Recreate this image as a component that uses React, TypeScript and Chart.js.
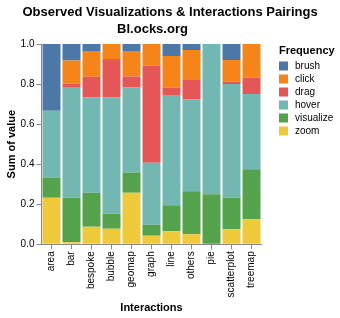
import React, { useEffect, useRef } from "react";
import { Chart, registerables } from "chart.js";

Chart.register(...registerables);

const categories = ["area", "bar", "bespoke", "bubble", "geomap", "graph", "line", "others", "pie", "scatterplot", "treemap"];

// stack order bottom -> top
const zoomValues = [0.233, 0.01, 0.087, 0.078, 0.257, 0.043, 0.065, 0.05, 0, 0.075, 0.125];
const visualizeValues = [0.1, 0.222, 0.17, 0.075, 0.101, 0.054, 0.13, 0.215, 0.25, 0.158, 0.25];
const hoverValues = [0.334, 0.55, 0.476, 0.58, 0.425, 0.31, 0.55, 0.458, 0.75, 0.567, 0.375];
const dragValues = [0, 0.02, 0.104, 0.192, 0.055, 0.486, 0.038, 0.097, 0, 0.012, 0.083];
const clickValues = [0, 0.115, 0.128, 0.075, 0.127, 0.107, 0.157, 0.15, 0, 0.108, 0.167];
const brushValues = [0.333, 0.083, 0.035, 0, 0.035, 0, 0.06, 0.03, 0, 0.08, 0];

const legendLabels = ["brush", "click", "drag", "hover", "visualize", "zoom"];
const legendColors = ["#4c78a8", "#f58518", "#e45756", "#72b7b2", "#54a24b", "#eeca3b"];
const yTicks = [0, 0.2, 0.4, 0.6, 0.8, 1.0];

const FONT = "'Liberation Sans', Arial, Helvetica, sans-serif";

const textPlugin = {
  id: "textPlugin",
  afterDraw(chart: any) {
    const ctx = chart.ctx as CanvasRenderingContext2D;
    const area = chart.chartArea;
    ctx.save();
    ctx.fillStyle = "#000";
    // title
    ctx.font = `bold 13px ${FONT}`;
    ctx.textAlign = "center";
    ctx.textBaseline = "alphabetic";
    ctx.fillText("Observed Visualizations & Interactions Pairings", 170, 16);
    ctx.fillText("Bl.ocks.org", (area.left + area.right) / 2 + 1, 33);
    // axis titles
    ctx.font = `bold 11px ${FONT}`;
    ctx.fillText("Interactions", (area.left + area.right) / 2, 311);
    ctx.save();
    ctx.translate(11.5, (area.top + area.bottom) / 2);
    ctx.rotate(-Math.PI / 2);
    ctx.textBaseline = "middle";
    ctx.fillText("Sum of value", 0, 0);
    ctx.restore();
    // legend
    ctx.textAlign = "left";
    ctx.font = `bold 11px ${FONT}`;
    ctx.fillText("Frequency", 279, 54);
    ctx.font = `10px ${FONT}`;
    ctx.textBaseline = "middle";
    legendLabels.forEach((l, i) => {
      const cy = 66 + i * 13;
      ctx.fillStyle = legendColors[i];
      ctx.fillRect(279, cy - 4.5, 9, 9);
      ctx.fillStyle = "#000";
      ctx.fillText(l, 295, cy + 0.5);
    });
    ctx.restore();
  },
};

export default function App() {
  const ref = useRef<HTMLCanvasElement | null>(null);
  useEffect(() => {
    if (!ref.current) return;
    const series = [
      { label: "zoom", data: zoomValues, color: legendColors[5] },
      { label: "visualize", data: visualizeValues, color: legendColors[4] },
      { label: "hover", data: hoverValues, color: legendColors[3] },
      { label: "drag", data: dragValues, color: legendColors[2] },
      { label: "click", data: clickValues, color: legendColors[1] },
      { label: "brush", data: brushValues, color: legendColors[0] },
    ];
    const chart = new Chart(ref.current, {
      type: "bar",
      data: {
        labels: categories,
        datasets: series.map((s) => ({
          label: s.label,
          data: s.data,
          backgroundColor: s.color,
          borderWidth: 0,
          barPercentage: 0.9,
          categoryPercentage: 1.0,
        })),
      },
      options: {
        animation: false,
        responsive: false,
        devicePixelRatio: 1,
        layout: { padding: { top: 44, right: 78.5, left: 0, bottom: 0 } },
        plugins: {
          legend: { display: false },
          title: { display: false },
          tooltip: { enabled: false },
        },
        scales: {
          x: {
            stacked: true,
            afterFit: (s: any) => {
              s.height = 73.7;
            },
            grid: {
              display: true,
              drawOnChartArea: false,
              drawTicks: true,
              tickLength: 5,
              color: "#888",
              offset: false,
            },
            border: { display: true, color: "#888" },
            ticks: {
              color: "#000",
              font: { family: FONT, size: 10 },
              minRotation: 90,
              maxRotation: 90,
              padding: 2,
              autoSkip: false,
            },
          },
          y: {
            stacked: true,
            min: 0,
            max: 1,
            afterFit: (s: any) => {
              s.width = 41.5;
            },
            afterBuildTicks: (s: any) => {
              s.ticks = yTicks.map((v) => ({ value: v }));
            },
            grid: {
              display: true,
              drawOnChartArea: false,
              drawTicks: true,
              tickLength: 5,
              color: "#888",
            },
            border: { display: true, color: "#888" },
            ticks: {
              color: "#000",
              font: { family: FONT, size: 10 },
              padding: 2,
              callback: (v: any) => Number(v).toFixed(1),
            },
          },
        },
      },
      plugins: [textPlugin],
    });
    return () => chart.destroy();
  }, []);
  return (
    <div style={{ position: "absolute", left: 0, top: 0, width: 340, height: 318, background: "#fff" }}>
      <canvas ref={ref} width={340} height={318} style={{ width: 340, height: 318 }} />
    </div>
  );
}
